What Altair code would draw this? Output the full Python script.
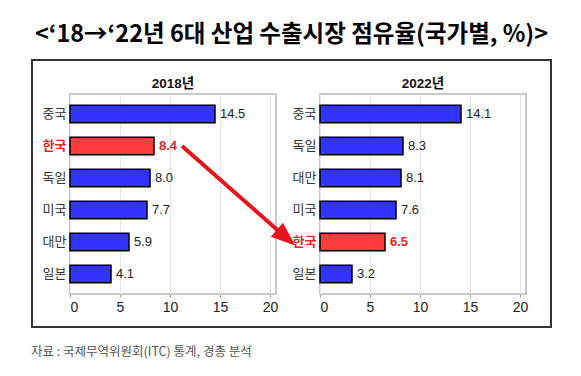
import altair as alt
import pandas as pd

# ---- data ----
countries_2018 = ["중국", "한국", "독일", "미국", "대만", "일본"]
values_2018 = [14.5, 8.4, 8.0, 7.7, 5.9, 4.1]
countries_2022 = ["중국", "독일", "대만", "미국", "한국", "일본"]
values_2022 = [14.1, 8.3, 8.1, 7.6, 6.5, 3.2]
x_ticks = [0, 5, 10, 15, 20]
highlight = "한국"
panel_titles = ["2018년", "2022년"]
main_title = "<‘18→‘22년 6대 산업 수출시장 점유율(국가별, %)>"
source_note = "자료 : 국제무역위원회(ITC) 통계, 경총 분석"
# arrow: from the 2018 한국 bar towards the 2022 한국 row (2018 panel coordinates)
arrow_share = [11.2, 22.1]
arrow_rows = ["한국", "대만"]

BLUE = "#3333FF"
RED = "#FF3B3B"
RED_TXT = "#E02828"
NUM_FONT = "Liberation Sans, Noto Sans CJK KR"
KR_FONT = "Noto Sans CJK KR"

PW, PH = 206, 200
XMAX = 20.6

blank = pd.DataFrame({"k": [0]})
arrow_df = pd.DataFrame({"country": arrow_rows, "share": arrow_share})


def panel(cats, vals, title, extras=None):
    df = pd.DataFrame({"country": cats, "share": vals})
    yscale = alt.Scale(domain=cats, paddingInner=0.45, paddingOuter=0.35)
    xscale = alt.Scale(domain=[0, XMAX], nice=False)
    y = alt.Y(
        "country:N",
        scale=yscale,
        axis=alt.Axis(
            title=None, domain=False, ticks=False, labelPadding=4,
            labelFont=KR_FONT, labelFontSize=13,
            labelColor={"condition": {"test": f"datum.value == '{highlight}'", "value": RED_TXT}, "value": "#333333"},
            labelFontWeight={"condition": {"test": f"datum.value == '{highlight}'", "value": "bold"}, "value": "normal"},
        ),
    )
    x = alt.X(
        "share:Q",
        scale=xscale,
        axis=alt.Axis(
            values=x_ticks, title=None, domain=False, tickSize=3, tickColor="#999999",
            labelFont=NUM_FONT, labelFontSize=14, labelColor="#222222", labelPadding=3,
            gridColor="#e6e6e6", grid=True,
        ),
    )
    bars = alt.Chart(df).mark_bar(stroke="black", strokeWidth=1.5).encode(
        x=x, y=y,
        color=alt.condition(alt.datum.country == highlight, alt.value(RED), alt.value(BLUE)),
    )
    txt_norm = alt.Chart(df).transform_filter(alt.datum.country != highlight).mark_text(
        align="left", dx=5, fontSize=13, font=NUM_FONT, color="#222222"
    ).encode(x=x, y=y, text=alt.Text("share:Q", format=".1f"))
    txt_hl = alt.Chart(df).transform_filter(alt.datum.country == highlight).mark_text(
        align="left", dx=5, fontSize=13, font=NUM_FONT, color=RED_TXT, fontWeight="bold"
    ).encode(x=x, y=y, text=alt.Text("share:Q", format=".1f"))
    ttl = alt.Chart(blank).mark_text(
        align="center", baseline="middle", fontSize=13.5, fontWeight="bold",
        font=NUM_FONT, color="#111111", clip=False
    ).encode(x=alt.value(PW / 2), y=alt.value(-10), text=alt.value(title))
    layers = [bars, txt_norm, txt_hl, ttl]
    if extras:
        layers += [e(x, y) for e in extras]
    return alt.layer(*layers).properties(width=PW, height=PH)


def box(x, y):
    return alt.Chart(blank).mark_rect(
        fill="white", fillOpacity=0, stroke="#333333", strokeWidth=2, clip=False
    ).encode(x=alt.value(-38), x2=alt.value(481), y=alt.value(-34), y2=alt.value(233))


def note(x, y):
    return alt.Chart(blank).mark_text(
        align="left", baseline="middle", fontSize=12.5, font=KR_FONT, color="#555555", clip=False
    ).encode(x=alt.value(-39), y=alt.value(258), text=alt.value(source_note))


def arrow_line(x, y):
    return alt.Chart(arrow_df).mark_line(
        color="#E8141B", strokeWidth=4, clip=False, strokeCap="butt"
    ).encode(x=x, y=y)


def arrow_head(x, y):
    head = arrow_df.iloc[[1]]
    return alt.Chart(head).mark_point(
        shape="M0.25,0L-0.85,-0.42L-0.85,0.42Z", filled=True, opacity=1,
        color="#E8141B", size=1936, angle=41, clip=False
    ).encode(x=x, y=y)


left = panel(countries_2018, values_2018, panel_titles[0], [box, note, arrow_line, arrow_head])
right = panel(countries_2022, values_2022, panel_titles[1])

chart = alt.hconcat(left, right, spacing=44, bounds="flush").properties(
    title=alt.TitleParams(main_title, fontSize=23.5, fontWeight="bold", font=KR_FONT,
                          anchor="middle", offset=12, color="#000000"),
    padding={"left": 22, "top": 14, "right": 5, "bottom": 5},
).configure_view(stroke="#b8b8b8", strokeWidth=1.5)

chart.save("out.html", embed_options={"renderer": "svg", "actions": False})
